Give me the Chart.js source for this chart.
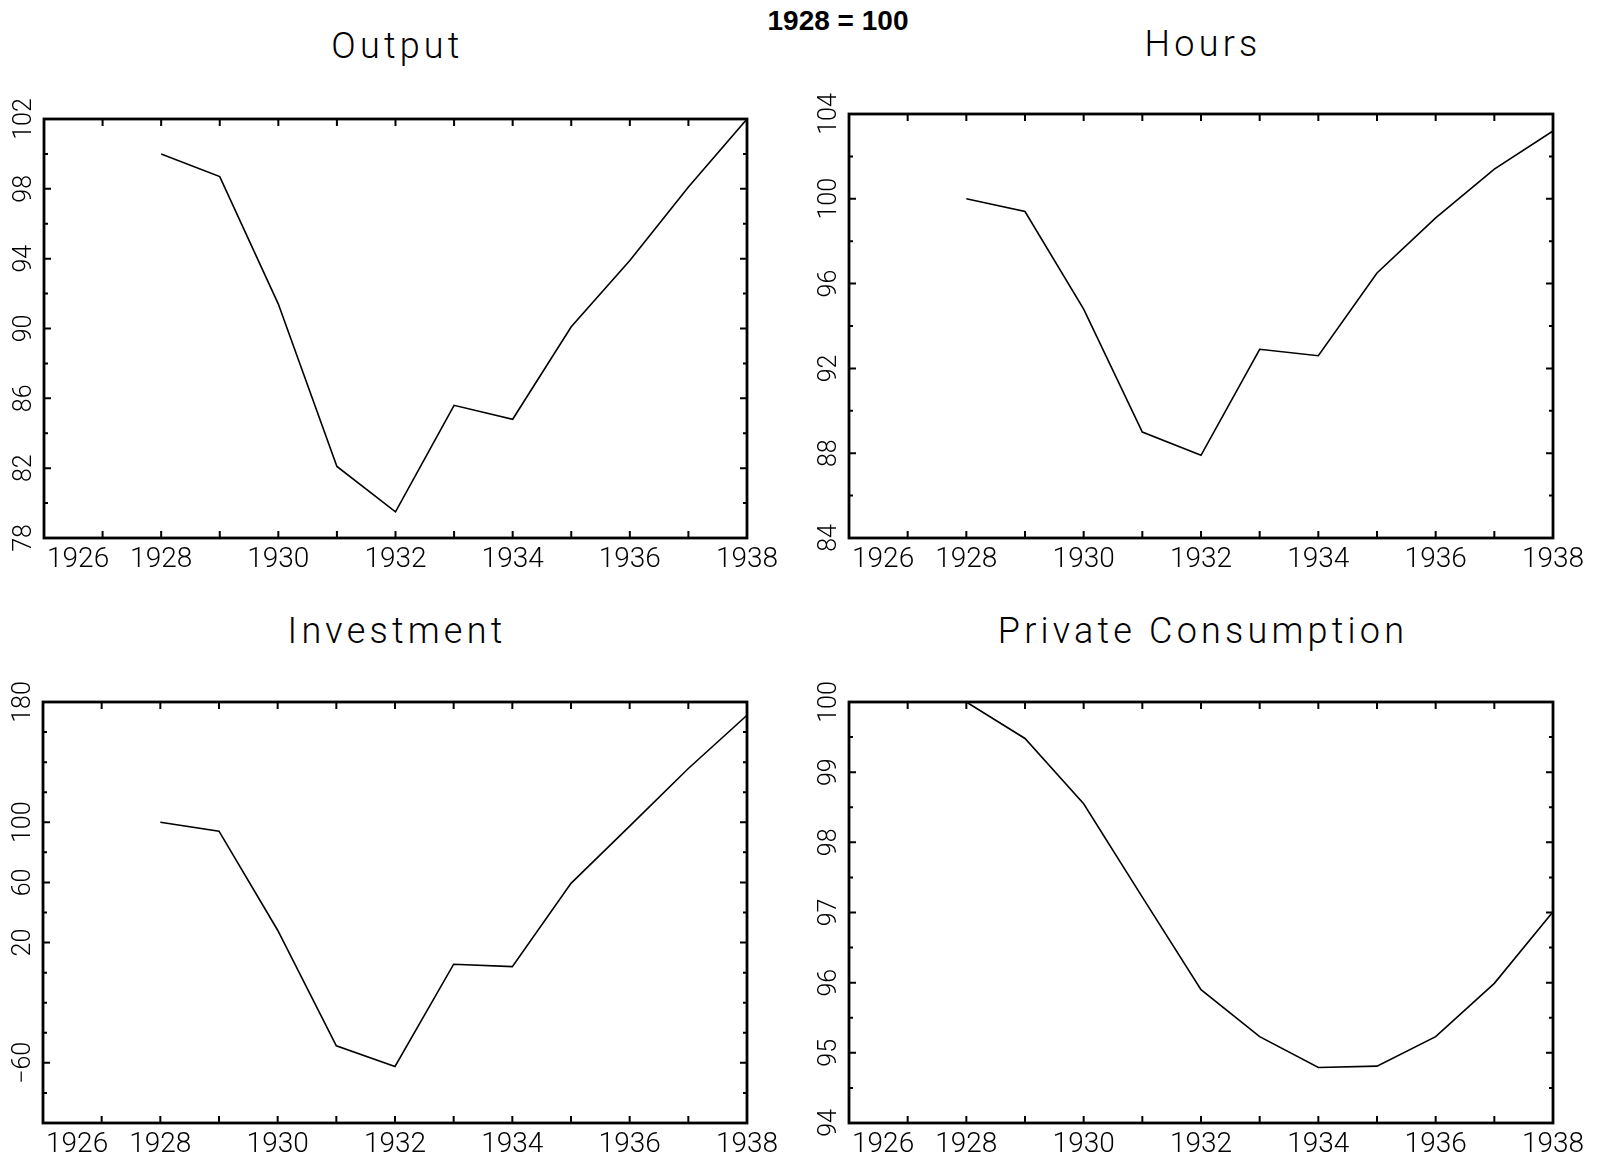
<!DOCTYPE html>
<html>
<head>
<meta charset="utf-8">
<title>1928 = 100</title>
<script src="https://cdn.jsdelivr.net/npm/chart.js@4.4.1/dist/chart.umd.min.js"></script>
<style>
  html, body { margin: 0; padding: 0; background: #fff; }
  #page { position: relative; width: 1597px; height: 1161px; overflow: hidden; background: #fff; }
  #page canvas { position: absolute; }
  .title {
    position: absolute;
    transform: translate(-50%, -50%);
    font-family: Roboto, "DejaVu Sans", sans-serif;
    font-weight: 300;
    font-size: 36px;
    letter-spacing: 4.2px;
    line-height: 1;
    white-space: nowrap;
    color: #000;
  }
  #main-title {
    position: absolute;
    transform: translate(-50%, -50%);
    font-family: "Liberation Sans", Arial, sans-serif;
    font-weight: bold;
    font-size: 28px;
    line-height: 1;
    white-space: nowrap;
    color: #000;
  }
</style>
</head>
<body>
<div id="page">
  <div id="main-title" style="left:838px; top:21px">1928 = 100</div>
</div>
<script>
// Annual series, 1928 = 100
const years = [1928, 1929, 1930, 1931, 1932, 1933, 1934, 1935, 1936, 1937, 1938];
const output = [100.0, 98.7, 91.4, 82.1, 79.5, 85.6, 84.8, 90.1, 93.9, 98.1, 102.0];
const hours = [100.0, 99.4, 94.8, 89.0, 87.9, 92.9, 92.6, 96.5, 99.1, 101.4, 103.2];
const investment = [100, 94.1, 28.2, -48.7, -62.4, 5.6, 4.0, 59.4, 97.4, 135.8, 171.2];
const consumption = [100.0, 99.48, 98.55, 97.22, 95.90, 95.23, 94.79, 94.81, 95.23, 95.99, 97.01];

// tick labels
const yearLabels = [1926, 1928, 1930, 1932, 1934, 1936, 1938];
const outputLabels = [78, 82, 86, 90, 94, 98, 102];
const hoursLabels = [84, 88, 92, 96, 100, 104];
const investmentLabels = [180, 100, 60, 20, -60];
const consumptionLabels = [94, 95, 96, 97, 98, 99, 100];

// page geometry
const Y_AXIS_W = 44;
const X_AXIS_H = 46;
const PAD_TOP = 30;
const PAD_RIGHT = 40;

const panels = [
  { title: 'Output', values: output, labels: outputLabels, min: 78, max: 102, step: 2,
    box: [44, 119, 747, 538], titleY: 46 },
  { title: 'Hours', values: hours, labels: hoursLabels, min: 84, max: 104, step: 2,
    box: [849, 114, 1553, 538], titleY: 44 },
  { title: 'Investment', values: investment, labels: investmentLabels, min: -100, max: 180, step: 20,
    box: [43, 702, 747, 1123], titleY: 631 },
  { title: 'Private Consumption', values: consumption, labels: consumptionLabels, min: 94, max: 100, step: 0.5,
    box: [849, 702, 1553, 1123], titleY: 631 }
];

const tickFont = { family: 'Roboto, "DejaVu Sans", sans-serif', weight: 300 };

// box round the plot plus inward ticks on all four sides
const frameTicks = {
  id: 'frameTicks',
  afterDatasetsDraw(chart) {
    const { ctx, chartArea: a, scales: { x, y } } = chart;
    ctx.save();
    ctx.strokeStyle = '#000';
    ctx.lineWidth = 2;
    ctx.beginPath();
    x.ticks.forEach(t => {
      const px = x.getPixelForValue(t.value);
      ctx.moveTo(px, a.bottom);
      ctx.lineTo(px, a.bottom - 7);
      ctx.moveTo(px, a.top);
      ctx.lineTo(px, a.top + 7);
    });
    y.ticks.forEach(t => {
      const py = y.getPixelForValue(t.value);
      const len = t.label ? 7 : 4;
      ctx.moveTo(a.left, py);
      ctx.lineTo(a.left + len, py);
      ctx.moveTo(a.right, py);
      ctx.lineTo(a.right - len, py);
    });
    ctx.stroke();
    ctx.lineWidth = 2.8;
    ctx.strokeRect(a.left, a.top, a.right - a.left, a.bottom - a.top);
    ctx.restore();
  }
};

function yearLabel(v) {
  if (!yearLabels.includes(v)) return '';
  // first year sits right of the corner
  return v === yearLabels[0] ? '          ' + v : String(v);
}

function drawPanel(p) {
  const page = document.getElementById('page');
  const [left, top, right, bottom] = p.box;

  const canvas = document.createElement('canvas');
  canvas.width = Y_AXIS_W + (right - left) + PAD_RIGHT;
  canvas.height = PAD_TOP + (bottom - top) + X_AXIS_H;
  canvas.style.left = (left - Y_AXIS_W) + 'px';
  canvas.style.top = (top - PAD_TOP) + 'px';
  page.appendChild(canvas);

  const title = document.createElement('div');
  title.className = 'title';
  title.textContent = p.title;
  title.style.left = ((left + right) / 2 + 2) + 'px';
  title.style.top = p.titleY + 'px';
  page.appendChild(title);

  new Chart(canvas, {
    type: 'line',
    data: {
      datasets: [{
        data: years.map((yr, i) => ({ x: yr, y: p.values[i] })),
        borderColor: '#000',
        borderWidth: 1.6,
        pointRadius: 0,
        tension: 0,
        fill: false
      }]
    },
    options: {
      responsive: false,
      animation: false,
      devicePixelRatio: 1,
      layout: { padding: { left: 0, top: PAD_TOP, right: PAD_RIGHT, bottom: 0 } },
      plugins: { legend: { display: false }, title: { display: false }, tooltip: { enabled: false } },
      scales: {
        x: {
          type: 'linear',
          min: 1926,
          max: 1938,
          grid: { display: false, drawTicks: false },
          border: { display: false },
          ticks: {
            stepSize: 1,
            maxTicksLimit: 50,
            autoSkip: false,
            minRotation: 0,
            maxRotation: 0,
            padding: 5,
            color: '#000',
            font: { ...tickFont, size: 28 },
            callback: v => yearLabel(v)
          },
          afterFit: s => {
            s.height = X_AXIS_H;
            s.paddingLeft = 0;
            s.paddingRight = 0;
          }
        },
        y: {
          type: 'linear',
          min: p.min,
          max: p.max,
          grid: { display: false, drawTicks: false },
          border: { display: false },
          ticks: {
            stepSize: p.step,
            maxTicksLimit: 50,
            autoSkip: false,
            minRotation: 90,
            maxRotation: 90,
            crossAlign: 'center',
            padding: -2,
            color: '#000',
            font: { ...tickFont, size: 25 },
            callback: v => {
              const k = Math.round(v);
              if (!p.labels.includes(k) || Math.abs(v - k) > 1e-6) return '';
              return String(k).replace('-', '\u2212');
            }
          },
          afterFit: s => {
            s.width = Y_AXIS_W;
            s.paddingTop = 0;
            s.paddingBottom = 0;
          }
        }
      }
    },
    plugins: [frameTicks]
  });
}

panels.forEach(drawPanel);
</script>
</body>
</html>
